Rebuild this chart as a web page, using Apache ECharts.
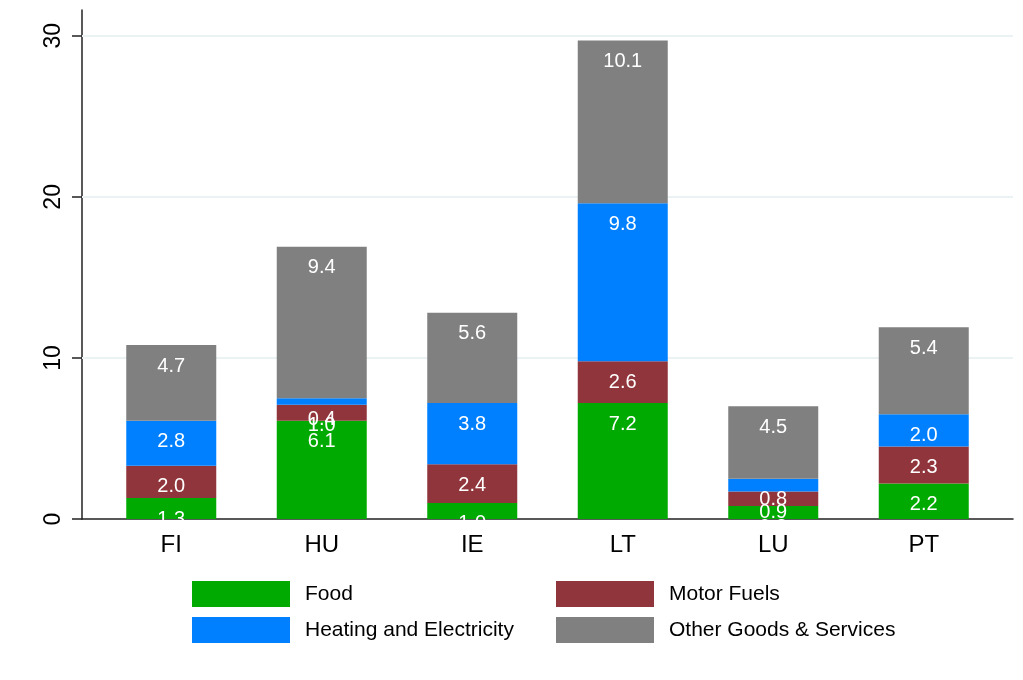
<!DOCTYPE html>
<html>
<head>
<meta charset="utf-8">
<script src="https://cdn.jsdelivr.net/npm/echarts@6/dist/echarts.min.js"></script>
<style>
  html, body { margin: 0; padding: 0; background: #fff; }
  #chart { width: 1023px; height: 680px; }
</style>
</head>
<body>
<div id="chart"></div>
<script>
// countries on the x axis
const countries = ['FI', 'HU', 'IE', 'LT', 'LU', 'PT'];

// stacked components, bottom to top
const food = [1.3, 6.1, 1.0, 7.2, 0.8, 2.2];
const motorFuels = [2.0, 1.0, 2.4, 2.6, 0.9, 2.3];
const heating = [2.8, 0.4, 3.8, 9.8, 0.8, 2.0];
const otherGoods = [4.7, 9.4, 5.6, 10.1, 4.5, 5.4];

const yTicks = [0, 10, 20, 30];
const yMax = 31.6;

const FONT = 'Liberation Sans, Arial, sans-serif';

const chart = echarts.init(document.getElementById('chart'), null, { renderer: 'canvas' });

function barSeries(name, data, color) {
  return {
    name: name,
    type: 'bar',
    stack: 'total',
    xAxisIndex: 1,
    yAxisIndex: 1,
    z: 10,
    barWidth: 90,
    data: data,
    itemStyle: { color: color },
    label: {
      show: true,
      position: 'insideTop',
      distance: 11,
      color: '#fff',
      fontFamily: FONT,
      fontSize: 20,
      formatter: p => p.value.toFixed(1)
    },
    emphasis: { disabled: true }
  };
}

const legendBase = {
  orient: 'vertical', top: 581, padding: 0,
  icon: 'rect', itemWidth: 98, itemHeight: 26, itemGap: 10,
  selectedMode: false,
  textStyle: { color: '#000', fontFamily: FONT, fontSize: 21, padding: [4, 0, 0, 10] }
};

const option = {
  animation: false,
  backgroundColor: '#fff',
  grid: [
    { left: 82, right: 10, top: 10, bottom: 161 },
    { left: 96, right: 24, top: 10, bottom: 161 }
  ],
  xAxis: [
    {
      gridIndex: 0, type: 'value', min: 0, max: 1,
      axisLine: { show: true, lineStyle: { color: '#222', width: 1.5 } },
      axisTick: { show: false }, axisLabel: { show: false }, splitLine: { show: false }
    },
    {
      gridIndex: 1, type: 'category', data: countries,
      axisLine: { show: false }, axisTick: { show: false },
      axisLabel: { color: '#000', fontFamily: FONT, fontSize: 24, margin: 14 }
    }
  ],
  yAxis: [
    {
      gridIndex: 0, type: 'value', min: 0, max: yMax,
      axisLine: { show: true, lineStyle: { color: '#222', width: 1.5 } },
      axisTick: { show: true, length: 10, customValues: yTicks, lineStyle: { color: '#222', width: 1.5 } },
      axisLabel: {
        customValues: yTicks, rotate: 90, margin: 17,
        color: '#000', fontFamily: FONT, fontSize: 23
      },
      splitLine: { show: false }
    },
    {
      gridIndex: 1, type: 'value', min: 0, max: yMax, show: false,
      splitLine: { show: false }
    }
  ],
  legend: [
    Object.assign({}, legendBase, { left: 192, data: ['Food', 'Heating and Electricity'] }),
    Object.assign({}, legendBase, { left: 556, data: ['Motor Fuels', 'Other Goods & Services'] })
  ],
  graphic: [
    {
      // hide the part of the labels that falls below the zero line
      type: 'rect', z: 100, silent: true,
      shape: { x: 84, y: 521, width: 928, height: 10 },
      style: { fill: '#fff' }
    }
  ],
  series: [
    {
      name: 'grid', type: 'line', xAxisIndex: 0, yAxisIndex: 0, data: [],
      silent: true, z: 1,
      markLine: {
        silent: true, symbol: 'none', label: { show: false }, z: 1,
        lineStyle: { color: '#eaf2f3', width: 2, type: 'solid' },
        data: yTicks.filter(v => v > 0).map(v => ({ yAxis: v }))
      }
    },
    barSeries('Food', food, '#00aa00'),
    barSeries('Motor Fuels', motorFuels, '#90353b'),
    barSeries('Heating and Electricity', heating, '#0080ff'),
    barSeries('Other Goods & Services', otherGoods, '#808080')
  ]
};

chart.setOption(option);
</script>
</body>
</html>
